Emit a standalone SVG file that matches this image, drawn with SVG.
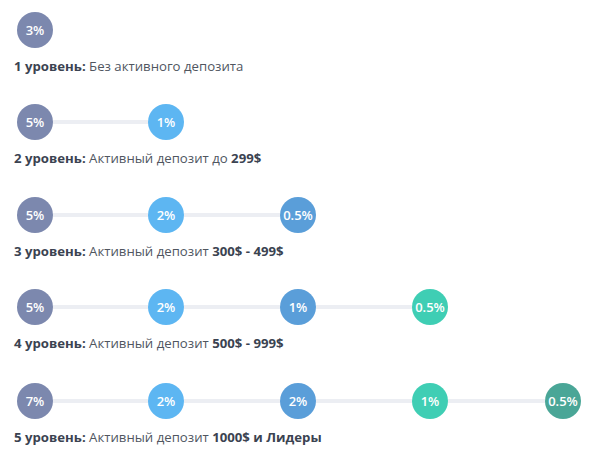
<svg xmlns="http://www.w3.org/2000/svg" width="600" height="460" viewBox="0 0 600 460">
<style>
.c1{fill:#7c88ae}.c2{fill:#5db6f2}.c3{fill:#5a9ed9}.c4{fill:#3fceb4}.c5{fill:#4aa697}
.lbl{font-family:"Open Sans","Noto Sans",sans-serif;font-size:13px;font-weight:600;fill:#fff;text-anchor:middle;dominant-baseline:central}
.cap{font-family:"Open Sans","Noto Sans",sans-serif;font-size:13.2px;fill:#50565f}
.cap tspan.b{font-weight:700;fill:#3b4351}
.ln{stroke:#eceef3;stroke-width:4;fill:none}
</style>
<rect width="600" height="460" fill="#fff"/>
<g id="connectors">
<line class="ln" x1="53" y1="122" x2="148" y2="122"/>
<line class="ln" x1="53" y1="215" x2="148" y2="215"/>
<line class="ln" x1="184" y1="215" x2="280" y2="215"/>
<line class="ln" x1="53" y1="307" x2="148" y2="307"/>
<line class="ln" x1="184" y1="307" x2="280" y2="307"/>
<line class="ln" x1="316" y1="307" x2="412" y2="307"/>
<line class="ln" x1="53" y1="401" x2="148" y2="401"/>
<line class="ln" x1="184" y1="401" x2="280" y2="401"/>
<line class="ln" x1="316" y1="401" x2="412" y2="401"/>
<line class="ln" x1="448" y1="401" x2="545" y2="401"/>
</g>
<g id="level1">
<g id="n1a"><circle class="c1" cx="35" cy="30" r="18"/><text class="lbl" x="35" y="30">3%</text></g>
<text class="cap" x="14" y="71"><tspan class="b">1 уровень:</tspan> Без активного депозита</text>
</g>
<g id="level2">
<g id="n2a"><circle class="c1" cx="35" cy="122" r="18"/><text class="lbl" x="35" y="122">5%</text></g>
<g id="n2b"><circle class="c2" cx="166" cy="122" r="18"/><text class="lbl" x="166" y="122">1%</text></g>
<text class="cap" x="14" y="163"><tspan class="b">2 уровень:</tspan> Активный депозит до <tspan class="b">299$</tspan></text>
</g>
<g id="level3">
<g id="n3a"><circle class="c1" cx="35" cy="215" r="18"/><text class="lbl" x="35" y="215">5%</text></g>
<g id="n3b"><circle class="c2" cx="166" cy="215" r="18"/><text class="lbl" x="166" y="215">2%</text></g>
<g id="n3c"><circle class="c3" cx="298" cy="215" r="18"/><text class="lbl" x="298" y="215">0.5%</text></g>
<text class="cap" x="14" y="256"><tspan class="b">3 уровень:</tspan> Активный депозит <tspan class="b">300$ - 499$</tspan></text>
</g>
<g id="level4">
<g id="n4a"><circle class="c1" cx="35" cy="307" r="18"/><text class="lbl" x="35" y="307">5%</text></g>
<g id="n4b"><circle class="c2" cx="166" cy="307" r="18"/><text class="lbl" x="166" y="307">2%</text></g>
<g id="n4c"><circle class="c3" cx="298" cy="307" r="18"/><text class="lbl" x="298" y="307">1%</text></g>
<g id="n4d"><circle class="c4" cx="430" cy="307" r="18"/><text class="lbl" x="430" y="307">0.5%</text></g>
<text class="cap" x="14" y="348"><tspan class="b">4 уровень:</tspan> Активный депозит <tspan class="b">500$ - 999$</tspan></text>
</g>
<g id="level5">
<g id="n5a"><circle class="c1" cx="35" cy="401" r="18"/><text class="lbl" x="35" y="401">7%</text></g>
<g id="n5b"><circle class="c2" cx="166" cy="401" r="18"/><text class="lbl" x="166" y="401">2%</text></g>
<g id="n5c"><circle class="c3" cx="298" cy="401" r="18"/><text class="lbl" x="298" y="401">2%</text></g>
<g id="n5d"><circle class="c4" cx="430" cy="401" r="18"/><text class="lbl" x="430" y="401">1%</text></g>
<g id="n5e"><circle class="c5" cx="563" cy="401" r="18"/><text class="lbl" x="563" y="401">0.5%</text></g>
<text class="cap" x="14" y="442"><tspan class="b">5 уровень:</tspan> Активный депозит <tspan class="b">1000$ и Лидеры</tspan></text>
</g>
</svg>
